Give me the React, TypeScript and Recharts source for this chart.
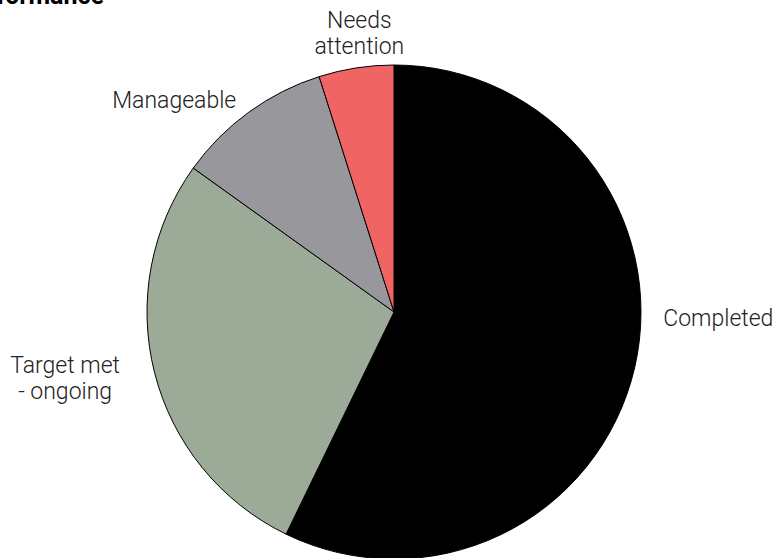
import React from 'react';
import { PieChart, Pie, Cell } from 'recharts';

const CATEGORIES = ['Completed', 'Target met\n- ongoing', 'Manageable', 'Needs\nattention'];
const SHARES = [57.2, 27.7, 10.2, 4.9];
const COLORS = ['#000000', '#9cab98', '#98989c', '#f06564'];

const data = CATEGORIES.map((name, i) => ({ name, value: SHARES[i] }));

// small nudges so the labels sit where the original "best fit" put them
const LABEL_NUDGE: Record<string, [number, number]> = {
  Completed: [11, -53],
  'Target met\n- ongoing': [-72, 1],
  Manageable: [-2, 3],
  'Needs\nattention': [6, -17],
};

const RAD = Math.PI / 180;
const FONT = 'Roboto, "Liberation Sans", sans-serif';

const renderLabel = (props: any) => {
  const { cx, cy, midAngle, outerRadius, name } = props;
  const r = outerRadius + 18;
  const cos = Math.cos(-midAngle * RAD);
  const sin = Math.sin(-midAngle * RAD);
  const [dx, dy] = LABEL_NUDGE[name] || [0, 0];
  const x = cx + r * cos + dx;
  const y = cy + r * sin + dy;
  const lines = String(name).split('\n');
  let anchor: 'start' | 'middle' | 'end' = 'middle';
  if (lines.length === 1) anchor = cos > 0.3 ? 'start' : cos < -0.3 ? 'end' : 'middle';
  return (
    <text
      x={x}
      y={y}
      textAnchor={anchor}
      fill="#222222"
      fontSize={23}
      fontWeight={300}
      fontFamily={FONT}
    >
      {lines.map((l, i) => (
        <tspan key={i} x={x} y={y + (i - (lines.length - 1) / 2) * 26} dominantBaseline="central">
          {l}
        </tspan>
      ))}
    </text>
  );
};

export default function App() {
  return (
    <div style={{ position: 'absolute', left: 0, top: 0, width: 783, height: 558, overflow: 'hidden', background: '#fff' }}>
      <div
        style={{
          position: 'absolute',
          right: 783 - 104,
          top: -19,
          fontFamily: FONT,
          fontWeight: 700,
          fontSize: 25,
          whiteSpace: 'nowrap',
          color: '#000',
        }}
      >
        Performance
      </div>
      <PieChart width={783} height={558} margin={{ top: 0, right: 0, bottom: 0, left: 0 }}>
        <Pie
          data={data}
          dataKey="value"
          nameKey="name"
          cx={394}
          cy={312}
          outerRadius={247}
          startAngle={90}
          endAngle={-270}
          stroke="#000"
          strokeWidth={1}
          label={renderLabel}
          labelLine={false}
          isAnimationActive={false}
        >
          {data.map((d, i) => (
            <Cell key={d.name} fill={COLORS[i]} />
          ))}
        </Pie>
      </PieChart>
    </div>
  );
}
